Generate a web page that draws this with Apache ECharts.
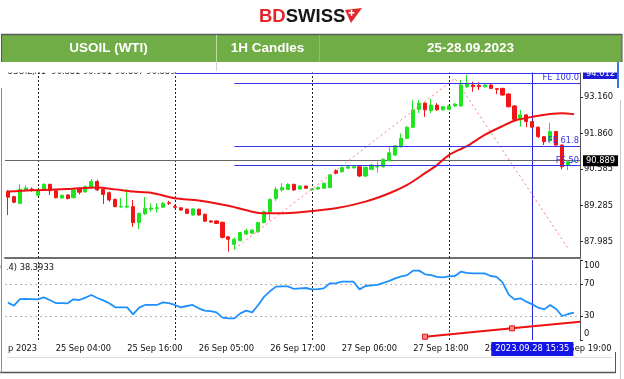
<!DOCTYPE html>
<html><head><meta charset="utf-8">
<script src="https://cdn.jsdelivr.net/npm/echarts@6/dist/echarts.min.js"></script>
<style>html,body{margin:0;padding:0;background:#fff}#c{width:624px;height:379px}</style>
</head><body><div id="c"></div>
<script>
// ---------- data (hourly bars, index 0 = 25 Sep 04:00) ----------
const firstIdx = -8;
const opens  = [89.78,89.60,89.36,89.84,89.87,89.65,89.84,90.04,89.81,89.55,89.66,89.56,89.88,89.77,89.93,90.14,89.86,89.74,89.50,89.23,89.23,89.24,88.67,88.98,89.15,89.18,89.22,89.38,89.24,89.20,89.15,88.94,89.15,88.97,88.73,88.73,88.68,88.16,87.89,88.02,88.26,88.29,88.34,88.67,89.06,89.53,89.84,89.86,90.04,89.87,89.98,89.84,89.87,89.90,89.93,90.53,90.49,90.62,90.63,90.67,90.34,90.58,90.66,90.67,90.89,91.09,91.39,91.69,92.09,92.73,92.95,92.68,92.88,92.71,92.73,92.85,92.85,93.54,93.60,93.58,93.54,93.60,93.47,93.48,93.28,92.85,92.37,92.53,92.29,92.09,91.75,91.60,91.93,91.45,90.73,90.87];
const closes = [89.58,89.40,89.86,89.91,89.84,89.84,90.04,89.81,89.56,89.65,89.53,89.84,89.76,89.96,90.14,89.84,89.68,89.48,89.24,89.25,89.26,88.67,89.00,89.18,89.19,89.20,89.36,89.36,89.22,89.12,89.00,89.16,88.94,88.72,88.69,88.64,88.14,88.07,88.07,88.31,88.38,88.40,88.67,89.06,89.50,89.86,89.92,90.04,89.84,89.98,89.90,89.87,89.93,90.08,90.38,90.44,90.64,90.67,90.67,90.34,90.65,90.73,90.68,90.94,91.17,91.42,91.69,92.09,92.71,92.95,92.71,92.88,92.71,92.82,92.85,92.92,93.60,93.66,93.54,93.54,93.60,93.48,93.45,93.24,92.82,92.37,92.53,92.29,92.09,91.75,91.57,91.93,91.45,90.67,90.85,90.889];
const lows   = [88.94,89.36,89.33,89.80,89.78,89.62,89.82,89.66,89.54,89.52,89.50,89.54,89.68,89.74,89.90,89.80,89.34,89.42,89.22,89.20,89.18,88.52,88.44,88.95,89.06,89.03,89.20,89.30,89.18,89.10,88.98,88.92,88.92,88.70,88.66,88.62,88.10,87.63,87.69,88.00,88.22,88.27,88.30,88.64,88.75,89.45,89.78,89.84,89.80,89.84,89.88,89.82,89.85,89.88,89.90,90.40,90.46,90.60,90.61,90.30,90.30,90.55,90.46,90.64,90.86,91.06,91.36,91.66,92.06,92.60,92.46,92.60,92.68,92.68,92.70,92.82,92.82,93.50,93.36,93.42,93.50,93.46,93.28,93.22,92.80,92.34,92.11,92.09,92.06,91.70,91.45,91.57,91.40,90.58,90.55,90.85];
const highs  = [89.84,89.63,90.04,90.00,89.93,89.86,90.08,90.06,89.84,89.68,89.69,89.87,89.93,90.00,90.23,90.20,89.88,89.78,89.53,89.55,89.87,89.48,89.03,89.59,89.36,89.36,89.40,89.45,89.30,89.22,89.17,89.18,89.17,88.99,88.75,88.75,88.70,88.18,88.14,88.34,88.45,88.43,88.70,89.10,89.54,89.95,90.08,90.08,90.06,90.02,90.00,89.89,89.96,90.10,90.40,90.58,90.67,90.69,90.69,90.70,90.68,90.76,90.86,90.96,91.37,91.45,91.86,92.12,93.06,93.06,92.98,93.10,92.95,92.85,92.88,92.95,93.78,93.96,93.72,93.70,93.63,93.63,93.48,93.50,93.30,92.88,92.71,92.55,92.31,92.11,91.77,92.25,91.95,91.47,90.92,90.92];

const maIdx = [-8,-4,2,7,10,13,16,20,24,29,33,35,38,41,47,52,56,59,62,64,66,69,72,75,77,80,83,85,87];
const maVal = [89.78,89.83,89.87,89.93,89.86,89.78,89.74,89.54,89.46,89.27,89.06,89.00,89.00,89.04,89.18,89.42,89.72,90.02,90.44,90.73,91.09,91.41,91.81,92.13,92.32,92.46,92.56,92.59,92.55];

const rsiVals = [46.7,42.9,51.2,51.5,51.2,50.8,53.3,50.0,46.2,46.2,45.8,50.8,50.0,53.0,56.2,52.5,49.5,46.0,40.8,40.8,40.8,32.1,40.4,43.8,43.8,43.8,47.1,46.2,43.8,40.8,42.5,43.8,39.6,36.7,36.2,34.6,27.9,27.1,27.1,33.3,36.7,34.6,43.8,54.2,61.2,66.7,67.0,67.1,63.8,64.5,65.0,63.3,63.5,64.6,70.8,70.8,72.9,72.9,72.9,63.3,67.5,68.2,68.8,71.5,74.0,77.1,79.5,81.2,86.7,86.7,82.1,81.2,79.0,78.3,79.5,80.0,85.4,84.0,83.3,83.3,83.3,80.0,79.0,72.0,57.1,50.8,52.1,47.9,44.6,40.4,38.3,43.8,38.8,30.0,32.5,34.2];

const feTrendIdx = [30, 67, 86];
const feTrendVal = [87.72, 93.84, 87.74];
const feLevels = [93.68, 91.415, 90.71];
const feLabels = ['FE 100.0', 'FE 61.8', 'FE 50'];
const feStartIdx = 30;
const topLineIdx = 20;
const topLine = 94.012;
const lastPrice = 90.889;
const cursorIdx = 80;
const cursorText = '2023.09.28 15:35';
const daySepIdx = [-3, 20, 43, 66];

const rsiTrendIdx = [62, 76.6, 88];
const rsiTrendVal = [4.1, 14.6, 22.8];
const rsiLevels = [70, 30];
const rsiTicks = [0, 30, 70, 100];
const rsiLegend = 'RSI(14) 38.3933';

const priceTicks = [87.985, 89.285, 90.585, 91.860, 93.160];
const xLabelIdx = [-8, 0, 12, 24, 36, 48, 60, 72, 84];
const xLabelText = ['p 2023', '25 Sep 04:00', '25 Sep 16:00', '26 Sep 05:00', '26 Sep 17:00', '27 Sep 06:00', '27 Sep 18:00', '28 Sep 07:00', '28 Sep 19:00'];

const headerCells = ['USOIL (WTI)', '1H Candles', '25-28.09.2023'];
const chartTitle = 'USOIL,H1  90.881 90.901 90.867 90.889';

// ---------- chart ----------
const FONT = 'DejaVu Sans';
const FS = 8.3;
const X_MIN = -8.5, X_MAX = 88;
const BLUE = '#3434f2';

const candles = opens.map((o, i) => [firstIdx + i, o, closes[i], lows[i], highs[i]]);
const maData = maIdx.map((x, i) => [x, maVal[i]]);
const rsiData = rsiVals.map((v, i) => [firstIdx + i, v]);
const feTrend = feTrendIdx.map((x, i) => [x, feTrendVal[i]]);
const rsiTrend = rsiTrendIdx.map((x, i) => (i === rsiTrendIdx.length - 1 ? {value: [x, rsiTrendVal[i]], symbol: 'none'} : [x, rsiTrendVal[i]]));

const chart = echarts.init(document.getElementById('c'));

const daySepLines = daySepIdx.map(x => ({xAxis: x, lineStyle: {color: '#222', type: [2, 2], width: 1}}));

const option = {
  animation: false,
  backgroundColor: '#fff',
  textStyle: {fontFamily: FONT},
  grid: [
    {left: 5, width: 575, top: 64, height: 194},
    {left: 5, width: 575, top: 260, height: 80}
  ],
  xAxis: [
    {type: 'value', gridIndex: 0, min: X_MIN, max: X_MAX,
     axisLine: {show: true, onZero: false, lineStyle: {color: '#6e6e6e', width: 2}},
     axisTick: {show: false}, axisLabel: {show: false}, splitLine: {show: false}},
    {type: 'value', gridIndex: 1, min: X_MIN, max: X_MAX,
     axisLine: {show: false, onZero: false}, axisTick: {show: false}, splitLine: {show: false},
     axisLabel: {customValues: xLabelIdx, align: 'left', margin: 5, fontSize: FS, fontFamily: FONT, color: '#111',
       formatter: v => xLabelText[xLabelIdx.indexOf(v)] || ''}}
  ],
  yAxis: [
    {type: 'value', gridIndex: 0, position: 'right', min: 87.40, max: 94.354, scale: true,
     axisLine: {show: true, onZero: false, lineStyle: {color: '#555', width: 1}},
     axisTick: {show: true, customValues: priceTicks, length: 3, lineStyle: {color: '#333'}},
     axisLabel: {customValues: priceTicks, margin: 4, fontSize: FS, fontFamily: FONT, color: '#111',
       formatter: v => v.toFixed(3)},
     splitLine: {show: false}},
    {type: 'value', gridIndex: 1, position: 'right', min: 0, max: 100,
     axisLine: {show: true, onZero: false, lineStyle: {color: '#555', width: 1}},
     axisTick: {show: true, customValues: rsiTicks, length: 3, lineStyle: {color: '#333'}},
     axisLabel: {customValues: rsiTicks, margin: 4, fontSize: FS, fontFamily: FONT, color: '#111',
       formatter: v => v === 100 ? '{t|100}' : (v === 0 ? '{b|0}' : String(v)),
       rich: {t: {padding: [12, 0, 0, 0], fontSize: FS, fontFamily: FONT, color: '#111'},
              b: {padding: [0, 0, 12, 0], fontSize: FS, fontFamily: FONT, color: '#111'}}},
     splitLine: {show: false}}
  ],
  series: [
    {
      type: 'candlestick', xAxisIndex: 0, yAxisIndex: 0, data: candles,
      barWidth: 3.6, z: 2,
      itemStyle: {color: '#1fe41f', color0: '#f21515', borderColor: '#1fe41f', borderColor0: '#f21515', borderWidth: 1},
      markLine: {
        silent: true, symbol: ['none', 'none'], animation: false, z: 1,
        label: {show: false},
        data: [
          ...daySepLines,
          {xAxis: cursorIdx, lineStyle: {color: '#2525e6', width: 1, type: 'solid'}},
          {yAxis: lastPrice, lineStyle: {color: '#666', width: 1.2, type: 'solid'},
           label: {show: true, position: 'end', formatter: lastPrice.toFixed(3), backgroundColor: '#000', color: '#fff',
                   padding: [2, 3, 1, 3], distance: 3, fontSize: FS, fontFamily: FONT}}
        ]
      }
    },
    {
      type: 'line', xAxisIndex: 0, yAxisIndex: 0, data: maData, smooth: 0.3, symbol: 'none', z: 4,
      lineStyle: {color: '#ee1111', width: 2}
    },
    {
      type: 'line', xAxisIndex: 0, yAxisIndex: 0, data: feTrend, symbol: 'none', z: 3,
      lineStyle: {color: '#ff7c7c', width: 1, type: [2, 3]},
      markLine: {
        silent: true, symbol: ['none', 'none'], animation: false, z: 6,
        label: {show: false},
        data: [
          [{coord: [topLineIdx, topLine], lineStyle: {color: BLUE, width: 1, type: 'solid'},
            label: {show: true, position: 'end', formatter: topLine.toFixed(3), backgroundColor: '#1c1cd8', color: '#fff',
                    padding: [2, 3, 1, 3], distance: 3, fontSize: FS, fontFamily: FONT}},
           {coord: [X_MAX, topLine]}],
          ...feLevels.map((p, k) => [
            {coord: [feStartIdx, p], lineStyle: {color: BLUE, width: 1, type: 'solid'},
             label: {show: true, position: 'insideEndTop', formatter: feLabels[k], color: BLUE, distance: 1,
                     fontSize: FS, fontFamily: FONT}},
            {coord: [X_MAX, p]}
          ])
        ]
      }
    },
    {
      type: 'line', xAxisIndex: 1, yAxisIndex: 1, data: rsiData, symbol: 'none', z: 3,
      lineStyle: {color: '#1e8fff', width: 1.8},
      markLine: {
        silent: true, symbol: ['none', 'none'], animation: false, z: 1,
        label: {show: false},
        data: [
          ...rsiLevels.map(v => ({yAxis: v, lineStyle: {color: '#b5b5b5', type: [2, 3], width: 1}})),
          ...daySepLines,
          {xAxis: cursorIdx, lineStyle: {color: '#2525e6', width: 1, type: 'solid'},
           label: {show: true, position: 'start', formatter: cursorText, backgroundColor: '#1414e6', color: '#fff',
                   padding: [3, 4, 3, 4], distance: 2, fontSize: FS, fontFamily: FONT}}
        ]
      }
    },
    {
      type: 'line', xAxisIndex: 1, yAxisIndex: 1, data: rsiTrend, z: 4,
      symbol: 'rect', symbolSize: 5, showAllSymbol: true,
      lineStyle: {color: '#f01010', width: 2},
      itemStyle: {color: '#ff8a8a', borderColor: '#e01010', borderWidth: 1}
    }
  ],
  graphic: [
    // logo
    {type: 'text', z: 100, style: {x: 259, y: 17, text: '{r|BD}{k|SWISS}', verticalAlign: 'middle',
      rich: {r: {fill: '#e3262b', fontSize: 18.5, fontWeight: 'bold', fontFamily: 'Liberation Sans'},
             k: {fill: '#161616', fontSize: 18.5, fontWeight: 'bold', fontFamily: 'Liberation Sans'}}}},
    {type: 'polygon', z: 100, shape: {points: [[345, 10], [362, 8], [351, 23]]}, style: {fill: '#e3262b'}},
    {type: 'rect', z: 101, shape: {x: 348.5, y: 12, width: 6, height: 1.6}, style: {fill: '#fff'}},
    {type: 'rect', z: 101, shape: {x: 350.7, y: 9.8, width: 1.6, height: 6}, style: {fill: '#fff'}},
    // white strip under the banner (clips the top of the chart)
    {type: 'rect', z: 100, shape: {x: 0, y: 61, width: 624, height: 11.5}, style: {fill: '#fff'}},
    {type: 'line', z: 101, shape: {x1: 216.5, y1: 62, x2: 216.5, y2: 71}, style: {stroke: '#d2d2d2', lineWidth: 1}},
    {type: 'rect', z: 101, shape: {x: 617, y: 62, width: 2, height: 26}, style: {fill: '#3c78d8'}},
    // banner
    {type: 'rect', z: 102, shape: {x: 1, y: 34, width: 621, height: 28}, style: {fill: '#70ad47'}},
    {type: 'line', z: 103, shape: {x1: 1, y1: 34.5, x2: 622, y2: 34.5}, style: {stroke: '#5a5a5a', lineWidth: 1.5}},
    {type: 'line', z: 103, shape: {x1: 216.5, y1: 35, x2: 216.5, y2: 62}, style: {stroke: '#b9dba2', lineWidth: 1}},
    {type: 'line', z: 103, shape: {x1: 319.5, y1: 35, x2: 319.5, y2: 62}, style: {stroke: '#8cbf6b', lineWidth: 1}},
    {type: 'line', z: 103, shape: {x1: 1.5, y1: 34, x2: 1.5, y2: 62}, style: {stroke: '#555', lineWidth: 1}},
    {type: 'line', z: 103, shape: {x1: 622, y1: 34, x2: 622, y2: 62}, style: {stroke: '#555', lineWidth: 1}},
    {type: 'text', z: 104, style: {x: 108.5, y: 48.5, text: headerCells[0], align: 'center', verticalAlign: 'middle', fill: '#fff', fontSize: 13.5, fontWeight: 'bold', fontFamily: 'Liberation Sans'}},
    {type: 'text', z: 104, style: {x: 267.5, y: 48.5, text: headerCells[1], align: 'center', verticalAlign: 'middle', fill: '#fff', fontSize: 13.5, fontWeight: 'bold', fontFamily: 'Liberation Sans'}},
    {type: 'text', z: 104, style: {x: 470.5, y: 48.5, text: headerCells[2], align: 'center', verticalAlign: 'middle', fill: '#fff', fontSize: 13.5, fontWeight: 'bold', fontFamily: 'Liberation Sans'}},
    // partially hidden chart title
    {type: 'text', z: 50, style: {x: 7, y: 67.5, text: chartTitle, verticalAlign: 'top', fill: '#222', fontSize: FS, fontFamily: FONT}},
    // RSI legend (left part cut by the frame)
    {type: 'text', z: 50, style: {x: -13.5, y: 267.5, text: rsiLegend, verticalAlign: 'middle', fill: '#111', fontSize: FS, fontFamily: FONT}},
    {type: 'rect', z: 51, shape: {x: 2, y: 261, width: 5, height: 13}, style: {fill: '#fff'}},
    // frame decorations
    {type: 'line', z: 50, shape: {x1: 7, y1: 357.5, x2: 612, y2: 357.5}, style: {stroke: '#dcdcdc', lineWidth: 1}},
    {type: 'line', z: 50, shape: {x1: 0, y1: 372.5, x2: 616, y2: 372.5}, style: {stroke: '#555', lineWidth: 1.5}},
    {type: 'line', z: 50, shape: {x1: 615.5, y1: 352, x2: 615.5, y2: 373}, style: {stroke: '#555', lineWidth: 1}},
    {type: 'line', z: 50, shape: {x1: 1.5, y1: 88, x2: 1.5, y2: 373}, style: {stroke: '#8a8a8a', lineWidth: 1}},
    {type: 'line', z: 50, shape: {x1: 620.5, y1: 100, x2: 620.5, y2: 379}, style: {stroke: '#c8c8c8', lineWidth: 1}}
  ]
};
chart.setOption(option);
</script>
</body></html>
